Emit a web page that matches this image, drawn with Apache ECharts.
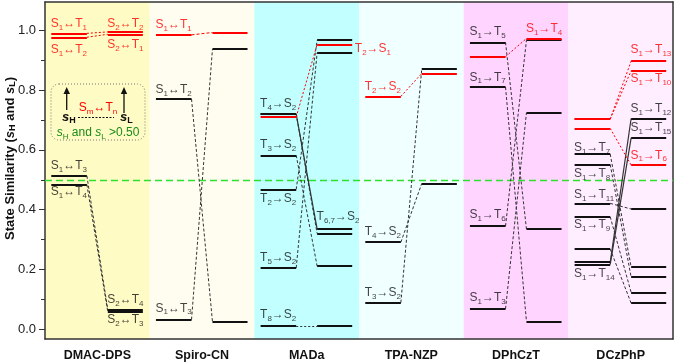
<!DOCTYPE html>
<html>
<head>
<meta charset="utf-8">
<script src="https://cdn.jsdelivr.net/npm/echarts@6/dist/echarts.min.js"></script>
<style>
  html, body { margin: 0; padding: 0; background: #fff; }
  #chart { width: 675px; height: 363px; }
</style>
</head>
<body>
<div id="chart"></div>
<script>
const categories = ['DMAC-DPS', 'Spiro-CN', 'MADa', 'TPA-NZP', 'DPhCzT', 'DCzPhP'];
const yMajorTicks = [0, 0.2, 0.4, 0.6, 0.8, 1.0];
const yMinorTicks = [0.1, 0.3, 0.5, 0.7, 0.9];
const threshold = 0.5;

// [left level, right level, colour r/k, link o=dotted d=dashed s=solid]
const dmacDps = [[0.990, 0.995, 'r', 'o'], [0.977, 0.987, 'r', 'o'], [0.513, 0.065, 'k', 'd'], [0.484, 0.058, 'k', 'd']];
const spiroCn = [[0.985, 0.993, 'r', 'd'], [0.770, 0.025, 'k', 'd'], [0.032, 0.937, 'k', 'd']];
const mada = [[0.720, 0.335, 'k', 's'], [0.720, 0.320, 'k', 'd'], [0.582, 0.211, 'k', 'd'], [0.468, 0.967, 'k', 'd'],
  [0.205, 0.925, 'k', 'd'], [0.011, 0.011, 'k', 'o'], [0.710, 0.953, 'r', 'o']];
const tpaNzp = [[0.779, 0.856, 'r', 'o'], [0.291, 0.488, 'k', 'd'], [0.089, 0.873, 'k', 'd']];
const dphczt = [[0.960, 0.335, 'k', 'd'], [0.810, 0.026, 'k', 'd'], [0.345, 0.967, 'k', 'd'], [0.068, 0.724, 'k', 'd'],
  [0.912, 0.973, 'r', 'o']];
const dczphp = [[0.586, 0.208, 'k', 'd'], [0.551, 0.174, 'k', 'd'], [0.421, 0.402, 'k', 'd'], [0.376, 0.123, 'k', 'd'],
  [0.268, 0.087, 'k', 'd'], [0.224, 0.705, 'k', 's'], [0.217, 0.640, 'k', 's'],
  [0.703, 0.897, 'r', 'o'], [0.703, 0.865, 'r', 'o'], [0.672, 0.549, 'r', 'o']];
const pairsByCat = [dmacDps, spiroCn, mada, tpaNzp, dphczt, dczphp];

// [text, side, value, colour]
const dmacLabels = [['S_1↔T_1', 'L', 1.021, 'r'], ['S_1↔T_2', 'L', 0.934, 'r'], ['S_2↔T_2', 'R', 1.023, 'r'],
  ['S_2↔T_1', 'R', 0.951, 'r'], ['S_1↔T_3', 'L', 0.547, 'k'], ['S_1↔T_4', 'L', 0.460, 'k'],
  ['S_2↔T_4', 'R', 0.097, 'k'], ['S_2↔T_3', 'R', 0.030, 'k']];
const spiroLabels = [['S_1↔T_1', 'L', 1.018, 'r'], ['S_1↔T_2', 'L', 0.800, 'k'], ['S_1↔T_3', 'L', 0.070, 'k']];
const madaLabels = [['T_4→S_2', 'L', 0.753, 'k'], ['T_3→S_2', 'L', 0.616, 'k'], ['T_2→S_2', 'L', 0.437, 'k'],
  ['T_5→S_2', 'L', 0.240, 'k'], ['T_8→S_2', 'L', 0.047, 'k'], ['T_2→S_1', 'E', 0.940, 'r'],
  ['T_6,7→S_2', 'R', 0.376, 'k']];
const tpaLabels = [['T_2→S_2', 'L', 0.811, 'r'], ['T_4→S_2', 'L', 0.326, 'k'], ['T_3→S_2', 'L', 0.122, 'k']];
const dphLabels = [['S_1→T_5', 'L', 0.995, 'k'], ['S_1→T_7', 'L', 0.843, 'k'], ['S_1→T_6', 'L', 0.382, 'k'],
  ['S_1→T_3', 'L', 0.105, 'k'], ['S_1→T_4', 'R', 1.006, 'r']];
const dczLabels = [['S_1→T_13', 'R', 0.934, 'r'], ['S_1→T_10', 'R', 0.837, 'r'], ['S_1→T_12', 'R', 0.739, 'k'],
  ['S_1→T_15', 'R', 0.674, 'k'], ['S_1→T_6', 'R', 0.582, 'r'], ['S_1→T_7', 'L', 0.606, 'k'],
  ['S_1→T_8', 'L', 0.521, 'k'], ['S_1→T_11', 'L', 0.449, 'k'], ['S_1→T_9', 'L', 0.348, 'k'],
  ['S_1→T_14', 'L', 0.186, 'k']];
const labelsByCat = [dmacLabels, spiroLabels, madaLabels, tpaLabels, dphLabels, dczLabels];

// layout inside each category slot
const L0 = 0.06, L1 = 0.40, R0 = 0.60, R1 = 0.935;
const sideX = { L: 0.055, R: 0.595, E: 0.96 };
const RED = '#ff0000', BLACK = '#111111';
const FONT = 'Arial, "Liberation Sans", sans-serif';

const levelsBlack = [], levelsRed = [], links = [];
pairsByCat.forEach(function (pairs, ci) {
  pairs.forEach(function (p) {
    const target = p[2] === 'r' ? levelsRed : levelsBlack;
    const col = p[2] === 'r' ? RED : BLACK;
    target.push({ coords: [[ci + L0, p[0]], [ci + L1, p[0]]], lineStyle: { color: col } });
    target.push({ coords: [[ci + R0, p[1]], [ci + R1, p[1]]], lineStyle: { color: col } });
    let type = p[3] === 's' ? 'solid' : (p[3] === 'o' ? [2, 2] : [3, 2]);
    links.push({
      coords: [[ci + L1, p[0]], [ci + R0, p[1]]],
      lineStyle: { color: p[2] === 'r' ? RED : '#333', type: type, width: p[3] === 's' ? 1.2 : 1 }
    });
  });
});

const labelData = [];
labelsByCat.forEach(function (list, ci) {
  list.forEach(function (l) {
    labelData.push({
      name: l[0],
      value: [ci + sideX[l[1]], l[2]],
      label: { color: l[3] === 'r' ? RED : BLACK }
    });
  });
});

function richText(t) {
  return t.replace(/_([0-9a-zA-Z,]+)/g, '{s|$1}');
}

const chart = echarts.init(document.getElementById('chart'));
const option = {
  animation: false,
  grid: { left: 45, right: 2, top: 2, bottom: 24, outerBoundsMode: 'none', containLabel: false },
  xAxis: [
    {
      type: 'category', data: categories, position: 'bottom',
      axisLine: { onZero: false, lineStyle: { color: '#333', width: 1.5 } },
      axisTick: { alignWithLabel: true, length: 5, lineStyle: { color: '#333' } },
      axisLabel: { fontFamily: FONT, fontWeight: 'bold', fontSize: 12.5, color: '#111', margin: 10 },
      splitLine: { show: false },
      splitArea: {
        show: true, interval: 0,
        areaStyle: { color: ['#fffbc4', '#fffdf0', '#c2ffff', '#f0ffff', '#ffd4ff', '#ffeeff'] }
      }
    },
    { type: 'value', min: 0, max: 6, show: false },
    {
      type: 'value', min: 0, max: 6, position: 'top',
      axisLine: { show: true, onZero: false, lineStyle: { color: '#333', width: 1.5 } },
      axisTick: { show: false }, axisLabel: { show: false }, splitLine: { show: false }
    }
  ],
  yAxis: [
    {
      type: 'value', min: -0.033, max: 1.095, position: 'left',
      name: 'State Similarity ({i|s}{sb|H} and {i|s}{sb|L})',
      nameLocation: 'middle', nameGap: 28, nameMoveOverlap: false,
      nameTextStyle: {
        fontFamily: FONT, fontWeight: 'bold', fontSize: 13, color: '#111',
        padding: [0, 0, 0, 24],
        rich: {
          i: { fontFamily: FONT, fontWeight: 'bold', fontStyle: 'italic', fontSize: 13, color: '#111' },
          sb: { fontFamily: FONT, fontWeight: 'bold', fontSize: 9, color: '#111', verticalAlign: 'bottom', lineHeight: 9 }
        }
      },
      axisLine: { show: true, onZero: false, lineStyle: { color: '#333', width: 1.5 } },
      axisTick: { show: true, length: 6, customValues: yMajorTicks, lineStyle: { color: '#333' } },
      axisLabel: {
        customValues: yMajorTicks, fontFamily: FONT, fontSize: 13, color: '#222', margin: 9,
        formatter: function (v) { return v.toFixed(1); }
      },
      splitLine: { show: false }
    },
    {
      type: 'value', min: -0.033, max: 1.095, position: 'left',
      axisLine: { show: false, onZero: false },
      axisTick: { show: true, length: 4, customValues: yMinorTicks, lineStyle: { color: '#333' } },
      axisLabel: { show: false }, splitLine: { show: false }
    },
    {
      type: 'value', min: -0.033, max: 1.095, position: 'right',
      axisLine: { show: true, onZero: false, lineStyle: { color: '#333', width: 1.5 } },
      axisTick: { show: false }, axisLabel: { show: false }, splitLine: { show: false }
    }
  ],
  series: [
    {
      type: 'lines', coordinateSystem: 'cartesian2d', xAxisIndex: 1, yAxisIndex: 0, silent: true,
      lineStyle: { width: 1.4, type: [7, 4], color: '#2ee02e', opacity: 1 },
      data: [{ coords: [[0, threshold], [6, threshold]] }], z: 2
    },
    {
      type: 'lines', coordinateSystem: 'cartesian2d', xAxisIndex: 1, yAxisIndex: 0, silent: true,
      lineStyle: { opacity: 1 }, data: links, z: 3
    },
    {
      type: 'lines', coordinateSystem: 'cartesian2d', xAxisIndex: 1, yAxisIndex: 0, silent: true,
      lineStyle: { width: 2, opacity: 1 }, data: levelsBlack, z: 4
    },
    {
      type: 'lines', coordinateSystem: 'cartesian2d', xAxisIndex: 1, yAxisIndex: 0, silent: true,
      lineStyle: { width: 2, opacity: 1 }, data: levelsRed, z: 5
    },
    {
      type: 'scatter', xAxisIndex: 1, yAxisIndex: 0, symbolSize: 0, silent: true, z: 6,
      data: labelData,
      label: {
        show: true, position: [0, 0], align: 'left', verticalAlign: 'middle',
        fontFamily: FONT, fontSize: 12, lineHeight: 16,
        formatter: function (p) { return richText(p.name); },
        rich: { s: { fontFamily: FONT, fontSize: 8, lineHeight: 8, verticalAlign: 'bottom' } }
      }
    }
  ],
  graphic: [
    {
      type: 'rect', shape: { x: 51, y: 84, width: 94, height: 56, r: 8 }, z: 10,
      style: { fill: 'none', stroke: '#777', lineWidth: 1, lineDash: [1, 2] }
    },
    { type: 'line', shape: { x1: 66.7, y1: 110, x2: 66.7, y2: 92 }, z: 10, style: { stroke: '#111', lineWidth: 1.3 } },
    { type: 'polygon', shape: { points: [[63.5, 94], [70, 94], [66.7, 87]] }, z: 10, style: { fill: '#111' } },
    { type: 'line', shape: { x1: 124, y1: 113, x2: 124, y2: 92 }, z: 10, style: { stroke: '#111', lineWidth: 1.3 } },
    { type: 'polygon', shape: { points: [[120.8, 94], [127.2, 94], [124, 87]] }, z: 10, style: { fill: '#111' } },
    { type: 'line', shape: { x1: 78, y1: 117.5, x2: 114, y2: 117.5 }, z: 10, style: { stroke: '#111', lineWidth: 1, lineDash: [2, 1.5] } },
    {
      type: 'text', x: 62, y: 117, z: 10,
      style: {
        text: '{i|s}{sb|H}', verticalAlign: 'middle', fill: '#111',
        rich: {
          i: { fontFamily: FONT, fontWeight: 'bold', fontStyle: 'italic', fontSize: 13, lineHeight: 16 },
          sb: { fontFamily: FONT, fontWeight: 'bold', fontSize: 9, lineHeight: 8, verticalAlign: 'bottom' }
        }
      }
    },
    {
      type: 'text', x: 120, y: 117, z: 10,
      style: {
        text: '{i|s}{sb|L}', verticalAlign: 'middle', fill: '#111',
        rich: {
          i: { fontFamily: FONT, fontWeight: 'bold', fontStyle: 'italic', fontSize: 13, lineHeight: 16 },
          sb: { fontFamily: FONT, fontWeight: 'bold', fontSize: 9, lineHeight: 8, verticalAlign: 'bottom' }
        }
      }
    },
    {
      type: 'text', x: 98, y: 108, z: 10,
      style: {
        text: 'S{s|m}↔T{s|n}', align: 'center', verticalAlign: 'middle', fill: RED,
        fontFamily: FONT, fontSize: 12, lineHeight: 16,
        rich: { s: { fontFamily: FONT, fontSize: 8, lineHeight: 8, verticalAlign: 'bottom' } }
      }
    },
    {
      type: 'text', x: 98, y: 133, z: 10,
      style: {
        text: '{i|s}{s|H} and {i|s}{s|L} >0.50', align: 'center', verticalAlign: 'middle', fill: '#1a8a1a',
        fontFamily: FONT, fontSize: 12, lineHeight: 16,
        rich: {
          i: { fontFamily: FONT, fontStyle: 'italic', fontSize: 12, lineHeight: 16 },
          s: { fontFamily: FONT, fontSize: 8, lineHeight: 8, verticalAlign: 'bottom' }
        }
      }
    }
  ]
};
chart.setOption(option);
</script>
</body>
</html>
